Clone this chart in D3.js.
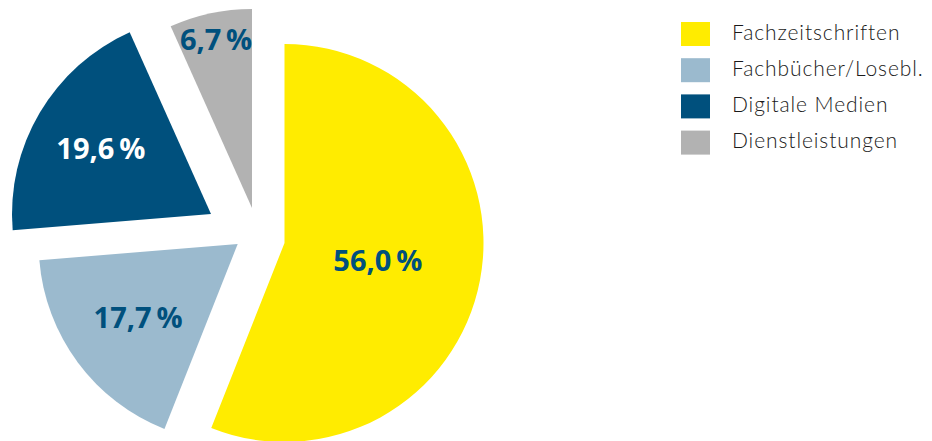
<!DOCTYPE html>
<html>
<head>
<meta charset="utf-8">
<script src="https://cdn.jsdelivr.net/npm/d3@7"></script>
<style>
  html, body { margin: 0; padding: 0; background: #ffffff; }
  svg { display: block; }
</style>
</head>
<body>
<svg id="chart" width="932" height="441"></svg>
<script>
// Umsatzanteile nach Geschäftsbereich (in %)
const categories = ["Fachzeitschriften", "Fachbücher/Losebl.", "Digitale Medien", "Dienstleistungen"];
const shares = [56.0, 17.7, 19.6, 6.7];
const colors = ["#ffec00", "#9bbace", "#00507d", "#b2b2b2"];
const labelColors = ["#00507d", "#00507d", "#ffffff", "#00507d"];

// Layout: pie centre, radius, per-slice explode shifts and label radii
const cx = 284.5, cy = 243, radius = 199;
const sliceShift = [[0, 0], [-46.8, 1], [-73.5, -29], [-32.5, -35]];
const labelRadius = [95, 124, 128, 172];

const fmt = v => d3.format(".1f")(v).replace(".", ",") + "\u2009%";

const svg = d3.select("#chart");

const pie = d3.pie().sort(null).startAngle(0).endAngle(2 * Math.PI);
const arcs = pie(shares);
const arc = d3.arc().innerRadius(0).outerRadius(radius);

const slices = svg.append("g")
  .attr("transform", `translate(${cx},${cy})`)
  .selectAll("g.slice")
  .data(arcs)
  .join("g")
  .attr("class", "slice")
  .attr("transform", (d, i) => `translate(${sliceShift[i][0]},${sliceShift[i][1]})`);

slices.append("path")
  .attr("d", arc)
  .attr("fill", (d, i) => colors[i]);

slices.append("text")
  .attr("transform", (d, i) => {
    const [x, y] = d3.arc().innerRadius(labelRadius[i]).outerRadius(labelRadius[i]).centroid(d);
    return `translate(${x},${y})`;
  })
  .attr("text-anchor", "middle")
  .attr("dy", "0.36em")
  .attr("font-family", "'Open Sans', sans-serif")
  .attr("font-weight", 700)
  .attr("font-size", 29)
  .attr("fill", (d, i) => labelColors[i])
  .text((d, i) => fmt(shares[i]));

// Legend
const legend = svg.append("g").attr("transform", "translate(681,22)");
const rows = legend.selectAll("g.row")
  .data(categories)
  .join("g")
  .attr("class", "row")
  .attr("transform", (d, i) => `translate(0,${i * 36.2})`);

rows.append("rect")
  .attr("width", 29)
  .attr("height", 24)
  .attr("fill", (d, i) => colors[i]);

rows.append("text")
  .attr("x", 51)
  .attr("y", 17.5)
  .attr("font-family", "Lato, sans-serif")
  .attr("font-weight", 300)
  .attr("font-size", 21)
  .attr("letter-spacing", 0.9)
  .attr("fill", "#1a1a1a")
  .text(d => d);
</script>
</body>
</html>
